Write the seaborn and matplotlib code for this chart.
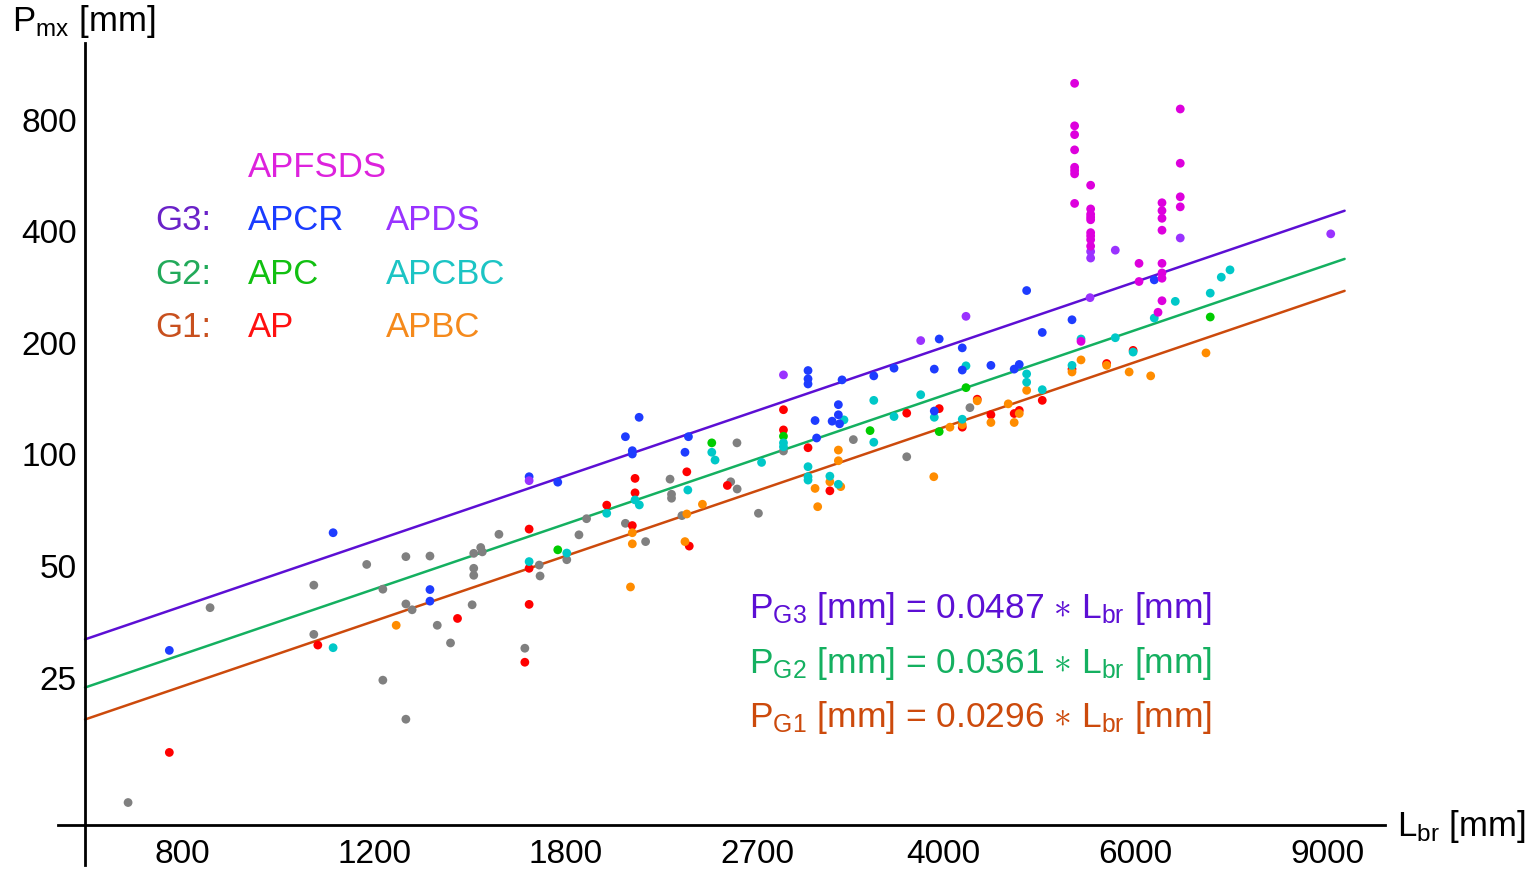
import matplotlib
matplotlib.use("Agg")
import matplotlib.pyplot as plt
from matplotlib.ticker import NullLocator
import pandas as pd
import seaborn as sns


# barrel length L_br [mm] and max penetration P_mx [mm]
other_L = [713, 848, 1056, 1056, 1181, 1222, 1222, 1283, 1283, 1283, 1300, 1350,
           1371, 1410, 1476, 1481, 1481, 1481, 1503, 1508, 1562, 1650, 1701, 1704,
           1803, 1850, 1880, 2041, 2130, 2243, 2250, 2250, 2300, 2550, 2584, 2585,
           2704, 2851, 3305, 3700, 4229]
other_P = [11.5, 38.6, 44.4, 32.7, 50.5, 43.3, 24.6, 53.0, 39.5, 19.3, 38.1, 53.2,
           34.6, 31.0, 39.3, 54.1, 49.3, 47.2, 56.1, 54.6, 60.9, 30.0, 50.3, 47.0,
           52.0, 60.7, 67.1, 65.2, 58.2, 85.8, 78.1, 76.2, 68.4, 84.4, 107.5, 80.7,
           69.4, 102.2, 109.7, 98.6, 133.8]

ap_L = [778, 1065, 1431, 1650, 1665, 1665, 1665, 1962, 2071, 2083, 2083, 2324, 2336,
        2532, 2851, 2851, 3003, 3145, 3700, 3963, 4161, 4295, 4421, 4644, 4694, 4928,
        5248, 5647, 5972]
ap_P = [15.7, 30.6, 36.1, 27.5, 39.4, 49.3, 62.9, 73.0, 64.3, 86.2, 78.8, 89.8, 56.6,
        82.5, 132.1, 116.5, 104.3, 79.8, 129.3, 133.0, 118.5, 141.0, 128.0, 129.0,
        131.5, 140.0, 170.0, 176.0, 191.0]

apbc_L = [1257, 2063, 2071, 2071, 2315, 2324, 2402, 3048, 3065, 3145, 3202, 3202, 3218,
          3918, 4054, 4161, 4295, 4421, 4586, 4644, 4694, 4768, 5248, 5349, 5647, 5922,
          6198, 6967]
apbc_P = [34.6, 43.9, 61.5, 57.4, 58.2, 69.1, 73.4, 81.0, 72.3, 84.4, 102.8, 96.2, 81.9,
          87.1, 118.5, 120.3, 139.6, 122.0, 137.0, 122.0, 129.0, 149.0, 167.0, 180.0,
          174.0, 167.0, 163.0, 188.0]

apc_L = [1769, 2450, 2851, 3424, 3963, 4194, 7030]
apc_P = [55.3, 107.5, 112.0, 116.0, 115.3, 151.5, 235.0]

apcbc_L = [1100, 1665, 1803, 1962, 2083, 2102, 2329, 2450, 2467, 2722, 2851, 2851, 3003,
           3003, 3003, 3145, 3202, 3240, 3451, 3451, 3602, 3811, 3922, 4161, 4194, 4768,
           4768, 4928, 5248, 5349, 5751, 5972, 6245, 6529, 7030, 7196, 7330]
apcbc_P = [30.1, 51.4, 54.2, 69.4, 75.4, 73.1, 80.2, 101.4, 96.6, 95.2, 107.5, 104.9,
           92.7, 87.1, 85.3, 87.4, 83.1, 124.0, 140.0, 107.9, 126.6, 145.0, 126.0, 124.5,
           173.5, 165.0, 156.7, 149.6, 174.0, 205.0, 206.6, 189.0, 233.5, 259.0, 272.6,
           301.0, 315.0]

apcr_L = [778, 1100, 1350, 1350, 1665, 1769, 2041, 2071, 2071, 2101, 2315, 2332, 3003,
          3003, 3003, 3048, 3058, 3160, 3202, 3202, 3210, 3227, 3451, 3602, 3922, 3922,
          3963, 4161, 4161, 4421, 4644, 4694, 4768, 4928, 5248, 6245]
apcr_P = [29.6, 61.5, 43.2, 40.2, 87.1, 84.2, 111.7, 102.4, 100.3, 126.0, 101.4, 111.7,
          168.5, 160.0, 155.0, 123.5, 110.8, 123.0, 136.3, 128.0, 121.0, 159.0, 163.0,
          171.0, 170.0, 131.0, 205.0, 194.0, 169.0, 174.0, 170.0, 175.0, 277.0, 213.5,
          231.0, 296.0]

apds_L = [1665, 2851, 3811, 4194, 5452, 5459, 5459, 5751, 6598, 9070]
apds_P = [85.0, 164.0, 203.0, 236.0, 265.0, 353.0, 339.0, 356.0, 384.0, 394.0]

apfsds_L = [5277, 5277, 5277, 5277, 5277, 5277, 5277, 5277,
            5459, 5459, 5459, 5459, 5459, 5459, 5459, 5459, 5459,
            6047, 6047, 6295, 6348, 6348, 6348, 6348, 6348, 6348, 6348, 6348,
            5349, 6598, 6598, 6598, 6598]
apfsds_P = [1004, 771, 730, 664, 596, 584, 572, 476,
            533, 460, 445, 437, 430, 397, 389, 380, 365,
            328, 293, 242, 478, 455, 434, 403, 328, 309, 299, 260,
            202, 856, 611, 496, 466]

# fitted groups P = k * L
groups = ["G3", "G2", "G1"]
coefs = [0.0487, 0.0361, 0.0296]
fit_L = [651, 9340]

x_ticks = [800, 1200, 1800, 2700, 4000, 6000, 9000]
y_ticks = [25, 50, 100, 200, 400, 800]

kinds = ["other", "AP", "APBC", "APC", "APCBC", "APCR", "APDS", "APFSDS"]
dot_colors = {
    "other": "#808080", "AP": "#ff0000", "APBC": "#ff8c00", "APC": "#00cc00",
    "APCBC": "#00c8c8", "APCR": "#1e3cff", "APDS": "#9a32ff", "APFSDS": "#dd00dd",
}
line_colors = {"G3": "#5c0fd4", "G2": "#14b060", "G1": "#cc4a0c"}
text_colors = {
    "APFSDS": "#dd22dd", "APCR": "#1a3cff", "APDS": "#9933ff", "APC": "#11c011",
    "APCBC": "#1cc4c4", "AP": "#ff1010", "APBC": "#f58a1c",
    "G3": "#6a22c8", "G2": "#22aa5a", "G1": "#c8501e",
}

series = [(other_L, other_P), (ap_L, ap_P), (apbc_L, apbc_P), (apc_L, apc_P),
          (apcbc_L, apcbc_P), (apcr_L, apcr_P), (apds_L, apds_P), (apfsds_L, apfsds_P)]
points = pd.concat(
    [pd.DataFrame({"L": l, "P": p, "kind": k}) for k, (l, p) in zip(kinds, series)],
    ignore_index=True,
)
fits = pd.concat(
    [pd.DataFrame({"L": fit_L, "P": [c * v for v in fit_L], "group": g})
     for g, c in zip(groups, coefs)],
    ignore_index=True,
)

sns.set_style("white")
plt.rcParams["font.family"] = ["Liberation Sans", "DejaVu Sans"]
plt.rcParams["mathtext.fontset"] = "custom"
plt.rcParams["mathtext.rm"] = "Liberation Sans"
plt.rcParams["mathtext.it"] = "Liberation Sans:italic"
plt.rcParams["mathtext.bf"] = "Liberation Sans:bold"

W, H = 1528, 872
fig = plt.figure(figsize=(W / 100, H / 100), dpi=100)
ax = fig.add_axes([58 / W, 7 / H, 1327 / W, 822 / H])
ax.set_xscale("log")
ax.set_yscale("log")

sns.lineplot(data=fits, x="L", y="P", hue="group", palette=line_colors,
             linewidth=1.8, legend=False, ax=ax)
sns.scatterplot(data=points, x="L", y="P", hue="kind", hue_order=kinds,
                palette=dot_colors, s=40, linewidth=0, legend=False, ax=ax, zorder=3)

ax.set_xlim(614.8, 10173)
ax.set_ylim(7.8, 1290)
ax.spines["left"].set_position(("data", 651))
ax.spines["bottom"].set_position(("data", 10))
for side in ["top", "right"]:
    ax.spines[side].set_visible(False)
for side in ["left", "bottom"]:
    ax.spines[side].set_linewidth(2.0)
    ax.spines[side].set_color("black")

ax.set_xticks(x_ticks, labels=[str(t) for t in x_ticks])
ax.set_yticks(y_ticks, labels=[str(t) for t in y_ticks])
ax.xaxis.set_minor_locator(NullLocator())
ax.yaxis.set_minor_locator(NullLocator())
ax.tick_params(direction="in", length=12, width=2, labelsize=24, colors="black")
ax.tick_params(axis="x", pad=10)
ax.tick_params(axis="y", pad=6)
ax.set_xlabel("")
ax.set_ylabel("")


def put(px, py, s, color="black", size=24):
    fig.text(px / W, 1 - py / H, s, color=color, fontsize=size, va="baseline", ha="left")


put(12, 31, r"P$_{\mathrm{mx}}$ [mm]", size=25)
put(1397, 836, r"L$_{\mathrm{br}}$ [mm]", size=25)

# legend block
put(248, 177, "APFSDS", text_colors["APFSDS"], 25)
rows = [("G3", "APCR", "APDS"), ("G2", "APC", "APCBC"), ("G1", "AP", "APBC")]
for i, (g, a, b) in enumerate(rows):
    y = 230 + i * 53.5
    put(155, y, g + ":", text_colors[g], 25)
    put(248, y, a, text_colors[a], 25)
    put(386, y, b, text_colors[b], 25)

for i, (g, c) in enumerate(zip(groups, coefs)):
    put(749, 618 + i * 54.5,
        r"P$_{\mathrm{%s}}$ [mm] = %.4f $\ast$ L$_{\mathrm{br}}$ [mm]" % (g, c),
        line_colors[g], 25.5)

fig.savefig("out.png", dpi=100)
